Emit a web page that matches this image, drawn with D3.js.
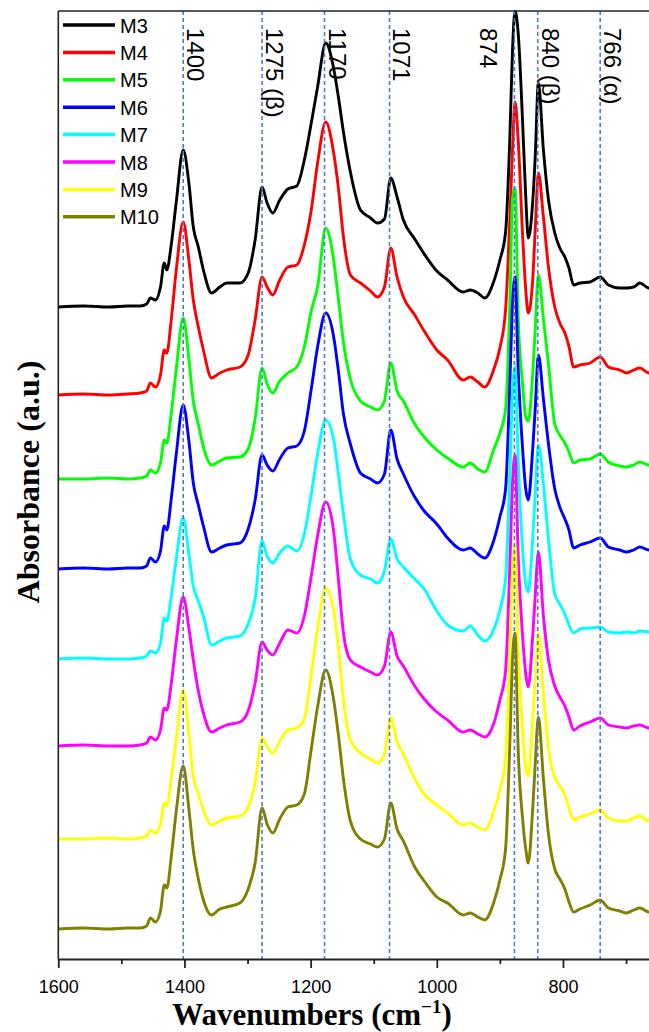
<!DOCTYPE html>
<html>
<head>
<meta charset="utf-8">
<script src="https://cdn.jsdelivr.net/npm/d3@7"></script>
<style>
  body { margin: 0; background: #fff; }
  svg { display: block; }
</style>
</head>
<body>
<svg width="649" height="1032"></svg>
<script>
"use strict";

// wavenumber grid (cm-1) shared by all spectra
const wavenumbers = [1600, 1560, 1520, 1490, 1470, 1460, 1454, 1446, 1438, 1432,
    1428, 1421, 1413, 1402, 1393, 1386, 1378, 1370, 1357, 1344,
    1333, 1312, 1299, 1288, 1277, 1269, 1260, 1249, 1236, 1222,
    1210, 1199, 1189, 1176, 1164, 1156, 1148, 1137, 1121, 1105,
    1094, 1083, 1073, 1063, 1053, 1035, 1020, 1000, 983, 958,
    947, 935, 924, 910, 900, 891, 884, 880, 876, 871,
    864, 859, 855, 848, 844, 839, 831, 823, 813, 805,
    797, 791, 783, 773, 757, 741, 728, 710, 699, 688,
    678, 664, 652];

const seriesNames = ["M3", "M4", "M5", "M6", "M7", "M8", "M9", "M10"];
const seriesColors = ["#000000", "#ff0000", "#00ff00", "#0000ff", "#00ffff", "#ff00ff", "#ffff00", "#808000"];
// vertical stacking offsets (a.u. x100)
const seriesOffsets = [652, 564, 480, 390, 300, 213, 120, 30];

// absorbance (a.u. x100) at each wavenumber
const absM3 = [0, 1, 0, 1, 1, 3, 9, 7, 20, 44,
    37, 62, 105, 157, 124, 80, 60, 37, 14, 20,
    24, 24, 34, 67, 120, 104, 94, 107, 118, 121,
    147, 184, 220, 264, 240, 210, 175, 135, 97, 89,
    84, 88, 129, 110, 87, 68, 53, 36, 27, 15,
    17, 14, 9, 25, 47, 75, 174, 257, 296, 274,
    185, 110, 69, 105, 150, 224, 157, 107, 74, 59,
    50, 40, 22, 24, 25, 30, 22, 19, 19, 20,
    24, 19, 20];
const absM4 = [0, 1, 0, 1, 2, 4, 12, 8, 20, 45,
    42, 75, 125, 173, 135, 95, 68, 45, 17, 22,
    25, 28, 40, 75, 118, 108, 100, 115, 128, 130,
    150, 185, 232, 273, 244, 207, 158, 120, 112, 104,
    98, 108, 147, 118, 98, 80, 64, 45, 35, 15,
    18, 13, 8, 25, 47, 85, 180, 245, 293, 255,
    160, 105, 82, 115, 165, 222, 178, 128, 88, 72,
    62, 50, 28, 30, 32, 38, 28, 25, 22, 25,
    27, 22, 22];
const absM5 = [0, 0, 1, 0, 1, 3, 9, 6, 16, 39,
    36, 65, 110, 161, 120, 78, 55, 32, 14, 18,
    21, 22, 30, 60, 111, 95, 86, 98, 106, 112,
    132, 168, 192, 251, 221, 180, 137, 100, 78, 72,
    69, 78, 116, 88, 78, 55, 42, 29, 21, 12,
    16, 10, 7, 29, 46, 70, 180, 280, 291, 162,
    95, 62, 58, 105, 150, 204, 160, 115, 55, 44,
    36, 28, 16, 19, 20, 25, 17, 13, 12, 14,
    17, 14, 14];
const absM6 = [0, 1, 0, 1, 1, 3, 11, 7, 18, 43,
    39, 70, 115, 164, 128, 86, 64, 43, 17, 21,
    24, 26, 40, 69, 114, 104, 98, 110, 121, 123,
    138, 180, 222, 256, 234, 198, 155, 125, 96, 90,
    86, 95, 139, 110, 95, 72, 58, 45, 31, 19,
    21, 15, 11, 28, 52, 80, 190, 265, 292, 200,
    120, 80, 69, 120, 160, 214, 170, 125, 80, 62,
    50, 40, 21, 24, 27, 31, 22, 19, 17, 19,
    22, 19, 20];
const absM7 = [0, 1, 0, 0, 1, 3, 8, 6, 16, 41,
    38, 62, 100, 141, 105, 73, 58, 43, 14, 18,
    21, 23, 35, 60, 118, 103, 96, 106, 113, 108,
    125, 165, 205, 239, 221, 185, 145, 100, 84, 80,
    76, 88, 120, 100, 92, 80, 70, 48, 34, 28,
    33, 24, 18, 29, 49, 80, 190, 265, 292, 200,
    110, 75, 67, 120, 165, 214, 175, 120, 65, 55,
    45, 35, 26, 30, 31, 32, 27, 26, 27, 26,
    28, 27, 27];
const absM8 = [0, 1, 0, 0, 1, 3, 9, 6, 16, 38,
    36, 62, 105, 149, 118, 86, 55, 33, 14, 18,
    21, 24, 35, 63, 104, 96, 91, 103, 116, 113,
    130, 170, 210, 244, 217, 167, 113, 86, 79, 74,
    71, 80, 114, 90, 80, 60, 47, 34, 26, 14,
    16, 12, 9, 22, 46, 75, 185, 262, 291, 190,
    110, 72, 59, 110, 150, 194, 130, 86, 60, 49,
    40, 30, 16, 20, 24, 28, 21, 19, 18, 20,
    21, 18, 19];
const absM9 = [0, 0, 1, 0, 1, 3, 9, 6, 15, 36,
    33, 60, 100, 149, 105, 63, 45, 29, 14, 18,
    21, 23, 32, 56, 101, 92, 86, 98, 109, 111,
    120, 165, 210, 251, 230, 192, 139, 99, 86, 80,
    76, 85, 121, 97, 85, 60, 45, 34, 26, 14,
    16, 12, 9, 27, 49, 80, 190, 265, 293, 190,
    110, 72, 63, 120, 160, 206, 145, 90, 62, 53,
    44, 32, 19, 22, 25, 29, 21, 18, 18, 21,
    23, 18, 19];
const absM10 = [0, 1, 0, 1, 1, 3, 11, 7, 18, 44,
    41, 72, 118, 163, 120, 79, 50, 29, 14, 20,
    22, 26, 40, 66, 121, 105, 96, 110, 122, 124,
    135, 180, 222, 259, 231, 194, 150, 108, 90, 85,
    82, 90, 126, 100, 88, 62, 48, 32, 26, 14,
    16, 12, 9, 26, 49, 80, 190, 270, 296, 179,
    110, 80, 66, 120, 165, 212, 150, 95, 60, 50,
    40, 28, 17, 20, 24, 29, 21, 18, 16, 19,
    21, 17, 18];

// marked bands: where the dashed line is drawn, and its label
const bandPositions = [1402, 1277, 1178, 1075, 877, 840, 741];
const bandLabels = ["1400", "1275 (\u03b2)", "1170", "1071", "874", "840 (\u03b2)", "766 (\u03b1)"];

const majorTicks = [1600, 1400, 1200, 1000, 800];
const minorTicks = [1500, 1300, 1100, 900, 700];

const plotLeft = 58.3;
const plotTop = 11;
const plotBottom = 959;
const width = 649;

function init() {
    const svg = d3.select("svg");
    const spectra = [absM3, absM4, absM5, absM6, absM7, absM8, absM9, absM10];

    const xScale = d3.scaleLinear()
        .domain([1600, 650])
        .range([plotLeft, 657.6]);
    const yScale = d3.scaleLinear()
        .domain([0, 948])
        .range([plotBottom, plotTop]);

    svg.append("clipPath").attr("id", "plot-clip")
        .append("rect")
        .attr("x", plotLeft).attr("y", plotTop - 1)
        .attr("width", width - plotLeft).attr("height", plotBottom - plotTop + 1);

    const line = d3.line()
        .x((d, i) => xScale(wavenumbers[i]))
        .y(d => yScale(d))
        .curve(d3.curveMonotoneX);

    // spectra, M3 first so later ones sit on top
    svg.append("g")
        .attr("clip-path", "url(#plot-clip)")
        .selectAll("path")
        .data(spectra)
        .join("path")
            .attr("d", (s, k) => line(s.map(v => v + seriesOffsets[k])))
            .attr("fill", "none")
            .attr("stroke", (s, k) => seriesColors[k])
            .attr("stroke-width", 2.9)
            .attr("stroke-linejoin", "round");

    // dashed band markers
    svg.append("g")
        .selectAll("line")
        .data(bandPositions)
        .join("line")
            .attr("x1", d => xScale(d)).attr("x2", d => xScale(d))
            .attr("y1", plotTop).attr("y2", plotBottom)
            .attr("stroke", "#4a7bd0")
            .attr("stroke-width", 1.6)
            .attr("stroke-dasharray", "4,3");

    svg.append("g")
        .selectAll("text")
        .data(bandPositions)
        .join("text")
            .attr("transform", (d, i) => `translate(${xScale(d) + (i === 4 ? -34 : 4)},28) rotate(90)`)
            .attr("font-family", "'Liberation Sans', Arial, sans-serif")
            .attr("font-size", 24)
            .attr("fill", "#000")
            .text((d, i) => bandLabels[i]);

    // frame: left and top
    svg.append("line")
        .attr("x1", plotLeft).attr("x2", plotLeft)
        .attr("y1", plotTop).attr("y2", plotBottom)
        .attr("stroke", "#222").attr("stroke-width", 1.6);
    svg.append("line")
        .attr("x1", plotLeft).attr("x2", width)
        .attr("y1", plotTop).attr("y2", plotTop)
        .attr("stroke", "#222").attr("stroke-width", 1.6);

    // x axis
    const xAxis = svg.append("g")
        .attr("transform", `translate(0,${plotBottom})`)
        .call(d3.axisBottom(xScale)
            .tickValues(majorTicks)
            .tickSize(9)
            .tickSizeOuter(0)
            .tickPadding(12)
            .tickFormat(d3.format("d")));
    xAxis.attr("font-family", "'Liberation Sans', Arial, sans-serif").attr("font-size", 18);
    xAxis.selectAll("path, line").attr("stroke", "#222").attr("stroke-width", 1.8);
    xAxis.selectAll("text").attr("fill", "#000");

    const minorAxis = svg.append("g")
        .attr("transform", `translate(0,${plotBottom})`)
        .call(d3.axisBottom(xScale)
            .tickValues(minorTicks)
            .tickSize(5)
            .tickFormat(""));
    minorAxis.select(".domain").remove();
    minorAxis.selectAll("line").attr("stroke", "#222").attr("stroke-width", 1.8);

    // legend
    const legend = svg.append("g")
        .selectAll("g")
        .data(seriesNames)
        .join("g")
            .attr("transform", (d, i) => `translate(0,${25 + i * 27.4})`);
    legend.append("line")
        .attr("x1", 63).attr("x2", 115)
        .attr("stroke", (d, i) => seriesColors[i])
        .attr("stroke-width", 3.5);
    legend.append("text")
        .attr("x", 120).attr("y", 7.5)
        .attr("font-family", "'Liberation Sans', Arial, sans-serif")
        .attr("font-size", 20)
        .text(d => d);

    // axis titles
    svg.append("text")
        .attr("transform", "translate(39,482) rotate(-90)")
        .attr("text-anchor", "middle")
        .attr("font-family", "'Liberation Serif', 'Times New Roman', serif")
        .attr("font-weight", "bold")
        .attr("font-size", 32)
        .text("Absorbance (a.u.)");

    const xTitle = svg.append("text")
        .attr("x", 312).attr("y", 1025)
        .attr("text-anchor", "middle")
        .attr("font-family", "'Liberation Serif', 'Times New Roman', serif")
        .attr("font-weight", "bold")
        .attr("font-size", 31);
    xTitle.append("tspan").text("Wavenumbers (cm");
    xTitle.append("tspan").attr("font-size", 19).attr("dy", -12).text("\u22121");
    xTitle.append("tspan").attr("dy", 12).text(")");
}

init();
</script>
</body>
</html>
